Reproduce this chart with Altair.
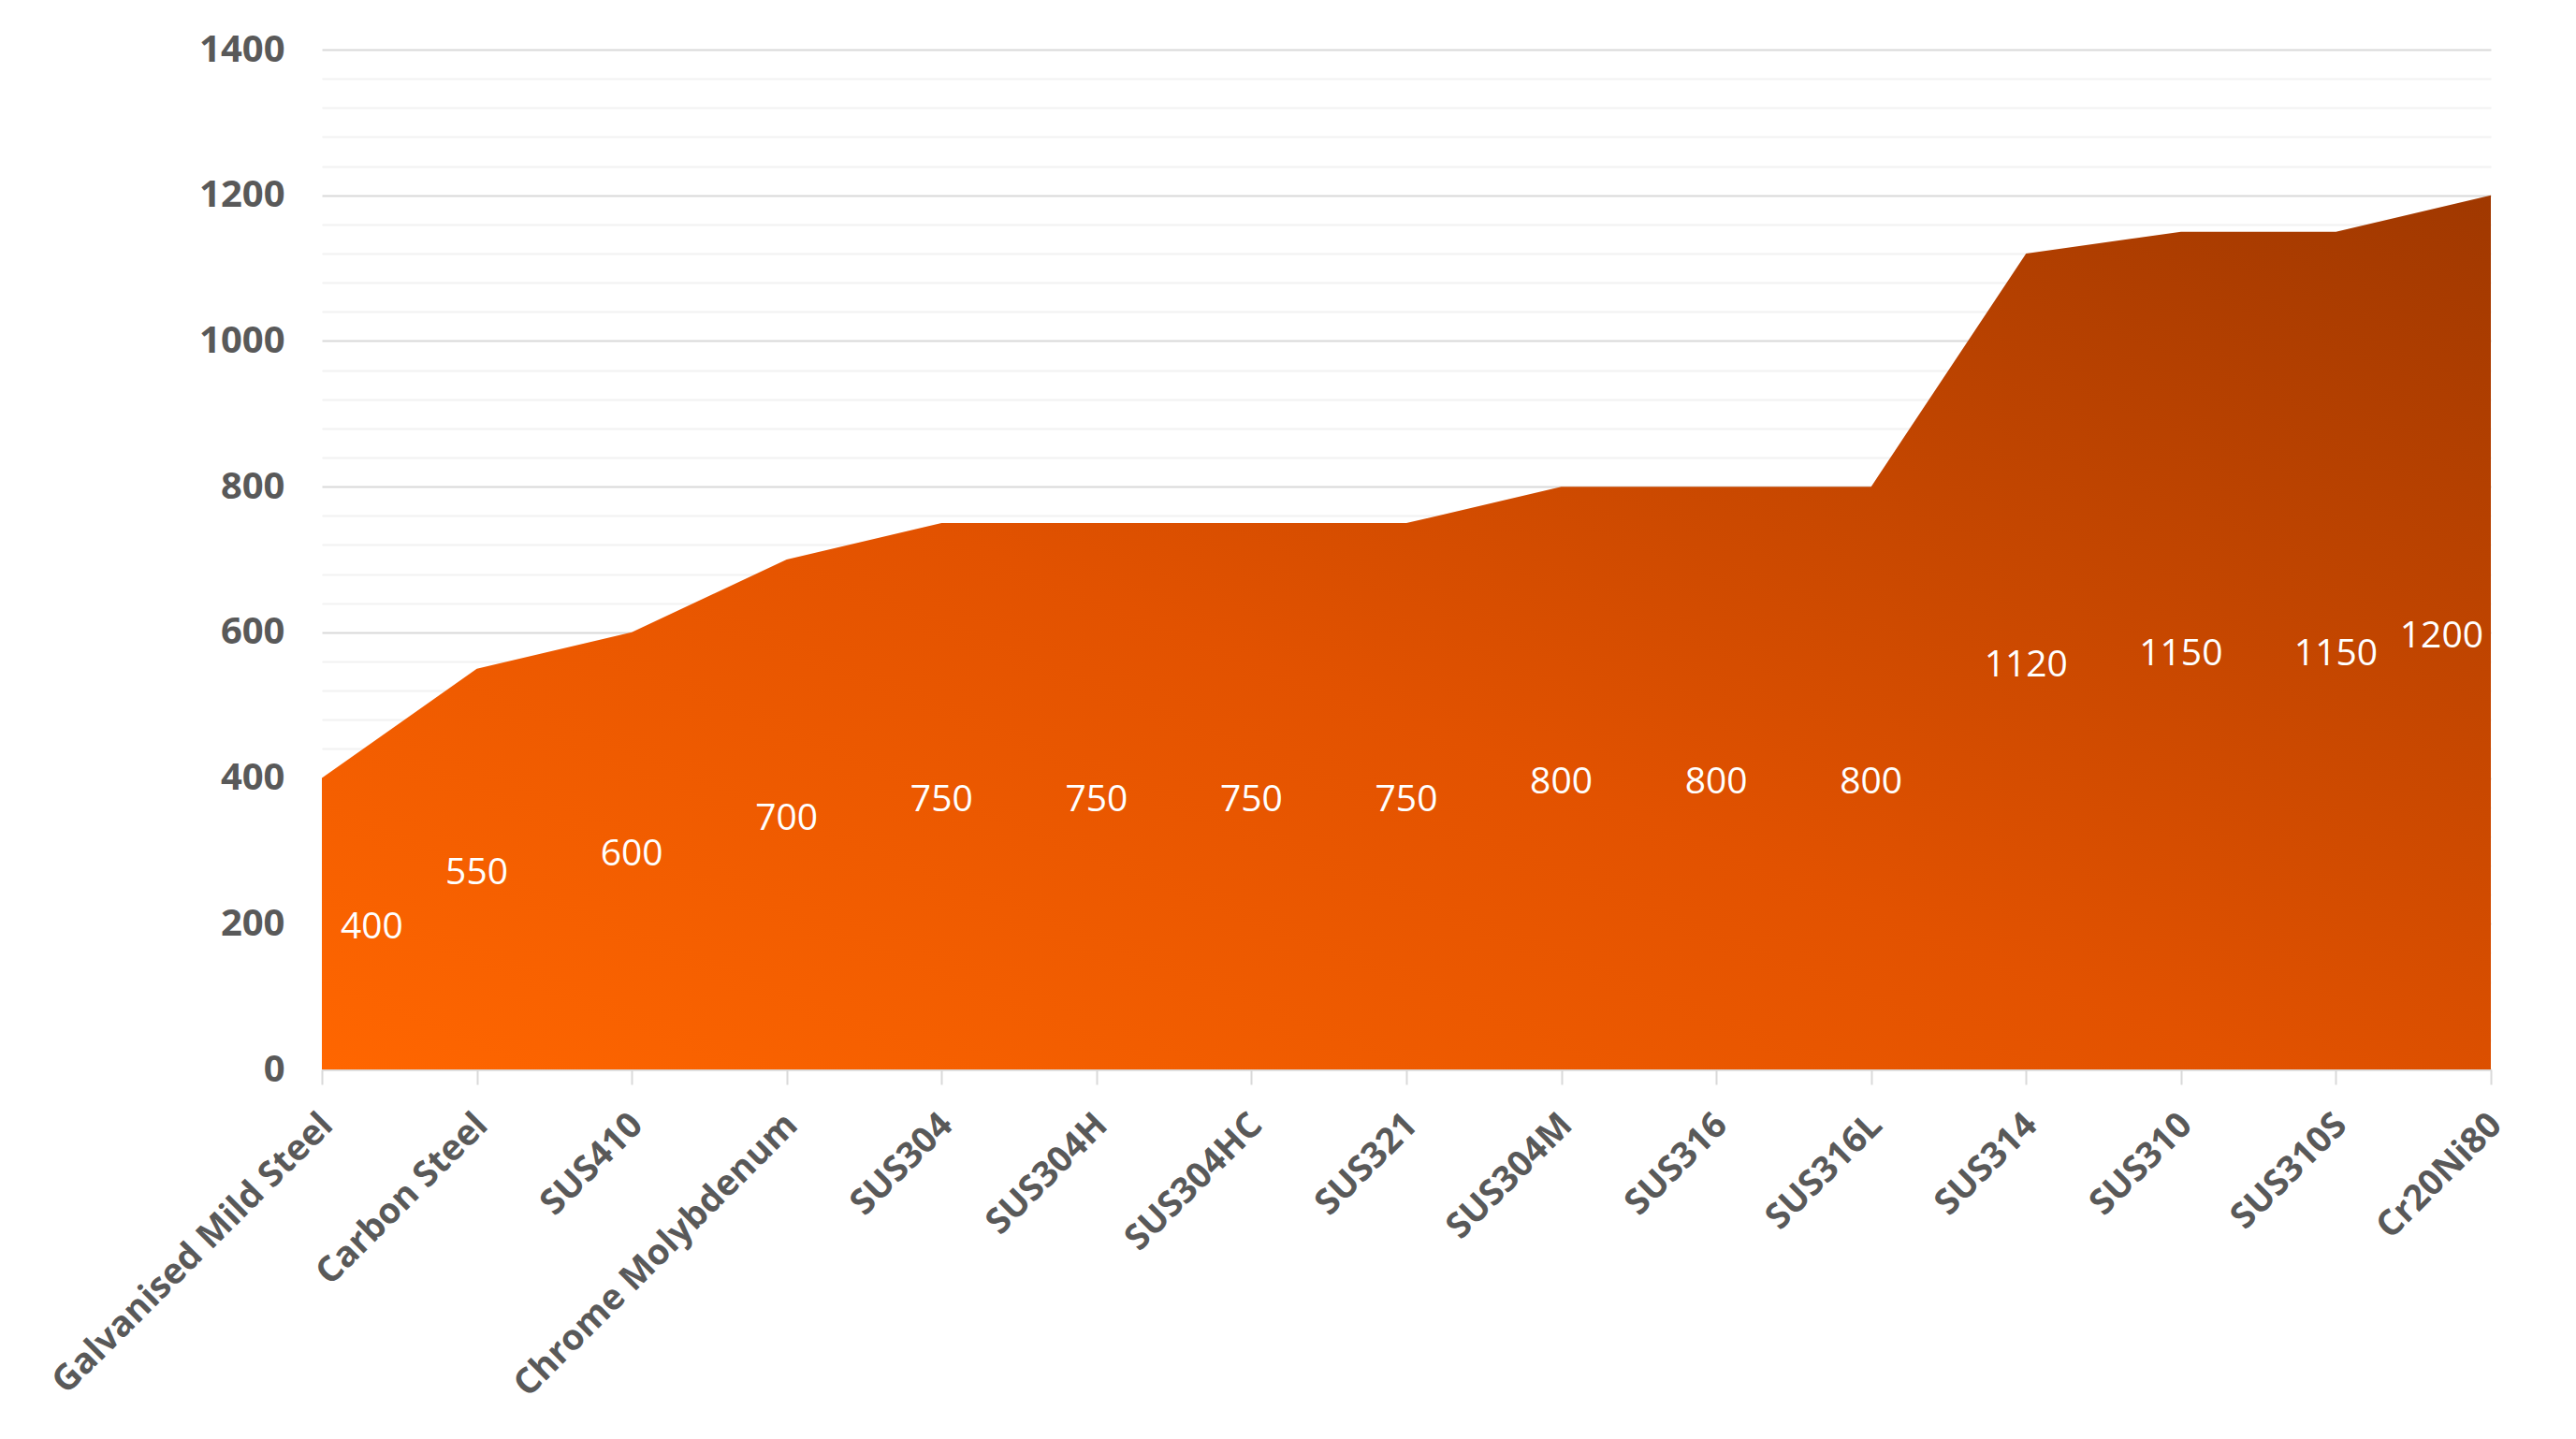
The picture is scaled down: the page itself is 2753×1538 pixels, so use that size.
import altair as alt
import pandas as pd

materials = [
    "Galvanised Mild Steel", "Carbon Steel", "SUS410", "Chrome Molybdenum",
    "SUS304", "SUS304H", "SUS304HC", "SUS321", "SUS304M", "SUS316",
    "SUS316L", "SUS314", "SUS310", "SUS310S", "Cr20Ni80",
]
temps = [400, 550, 600, 700, 750, 750, 750, 750, 800, 800, 800, 1120, 1150, 1150, 1200]
y_ticks = list(range(0, 1401, 40))

df = pd.DataFrame({"material": materials, "temp": temps, "idx": list(range(len(materials)))})

GRAY_TXT = "#595959"
FONT = "Open Sans"

x_enc = alt.X(
    "material:N",
    sort=materials,
    scale=alt.Scale(type="point", padding=0),
    axis=alt.Axis(
        title=None,
        labelAngle=-45,
        labelAlign="right",
        labelBaseline="top",
        labelFont=FONT,
        labelFontSize=38,
        labelFontWeight="bold",
        labelColor=GRAY_TXT,
        labelPadding=24,
        labelOffset=-8,
        labelLimit=0,
        labelOverlap=False,
        domainColor="#D9D9D9",
        domainWidth=2,
        tickColor="#D9D9D9",
        tickWidth=2,
        tickSize=16,
        grid=False,
    ),
)

y_enc = alt.Y(
    "temp:Q",
    scale=alt.Scale(domain=[0, 1400], nice=False),
    axis=alt.Axis(
        title=None,
        values=y_ticks,
        tickCount=len(y_ticks) + 4,
        format="d",
        labelExpr="datum.value % 200 === 0 ? datum.label : ''",
        labelOverlap=False,
        labelFont=FONT,
        labelFontSize=40,
        labelFontWeight="bold",
        labelColor=GRAY_TXT,
        labelPadding=40,
        domain=False,
        ticks=False,
        grid=True,
        gridWidth=2,
        gridColor={"condition": {"test": "datum.value % 200 === 0", "value": "#D9D9D9"}, "value": "#F2F2F2"},
    ),
)

gradient = alt.Gradient(
    gradient="linear",
    stops=[
        alt.GradientStop(color="#FF6600", offset=0),
        alt.GradientStop(color="#E25200", offset=0.45),
        alt.GradientStop(color="#A03800", offset=1),
    ],
    x1=0, y1=1, x2=1, y2=0,
)

base = alt.Chart(df)

area = base.mark_area(color=gradient, line=False, interpolate="linear").encode(x=x_enc, y=y_enc)

lab_base = base.transform_calculate(mid="datum.temp / 2").encode(
    x=alt.X("material:N", sort=materials),
    y=alt.Y("mid:Q"),
    text=alt.Text("temp:Q"),
)
txt_kw = dict(font=FONT, fontSize=39, color="white", baseline="middle", dy=4)
lab_first = lab_base.transform_filter("datum.idx === 0").mark_text(align="left", dx=20, **txt_kw)
lab_mid = lab_base.transform_filter(f"datum.idx > 0 && datum.idx < {len(materials) - 1}").mark_text(align="center", **txt_kw)
lab_last = lab_base.transform_filter(f"datum.idx === {len(materials) - 1}").mark_text(align="right", dx=-8, **txt_kw)

chart = (
    alt.layer(area, lab_first, lab_mid, lab_last)
    .properties(
        width=2318,
        height=1090,
        autosize=alt.AutoSizeParams(type="none"),
        padding={"left": 336, "top": 45, "right": 83, "bottom": 390},
        background="white",
    )
    .configure_view(stroke=None)
)

chart.save("out.html", embed_options={"renderer": "svg", "actions": False})
